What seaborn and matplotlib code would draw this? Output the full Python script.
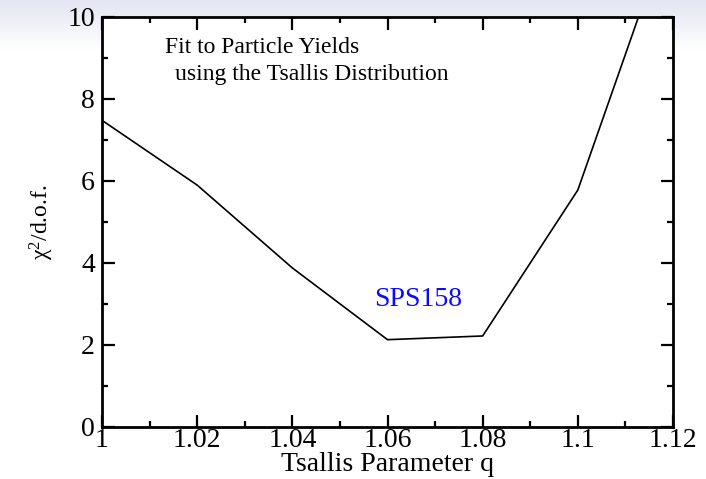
import numpy as np
import pandas as pd
import matplotlib
matplotlib.use("Agg")
import matplotlib.pyplot as plt
import seaborn as sns
from matplotlib.ticker import MultipleLocator, FixedLocator
from matplotlib.colors import LinearSegmentedColormap

q_values = [1.00, 1.02, 1.04, 1.06, 1.08, 1.10, 1.12]
chi2_values = [7.48, 5.90, 3.88, 2.13, 2.22, 5.78, 12.4]
x_ticks = [1.0, 1.02, 1.04, 1.06, 1.08, 1.10, 1.12]
x_tick_labels = ["1", "1.02", "1.04", "1.06", "1.08", "1.1", "1.12"]
y_ticks = [0, 2, 4, 6, 8, 10]

sns.set_theme(style="ticks")
plt.rcParams["font.family"] = ["Liberation Serif", "DejaVu Serif"]
plt.rcParams["mathtext.fontset"] = "custom"
plt.rcParams["mathtext.rm"] = "Liberation Serif"
plt.rcParams["mathtext.it"] = "Liberation Serif:italic"

W, H = 706, 479
fig = plt.figure(figsize=(W / 100, H / 100), dpi=100)
fig.patch.set_facecolor("white")

# light gradient band at top of the figure
bg = fig.add_axes([0, 1 - 50 / H, 1, 50 / H], zorder=-10)
grad = np.linspace(0, 1, 60).reshape(-1, 1)
cmap = LinearSegmentedColormap.from_list("g", ["#ffffff", "#e3e5f3"])
bg.imshow(grad, aspect="auto", cmap=cmap, extent=[0, 1, 0, 1], origin="lower")
bg.axis("off")

L, R, T, B = 102, 673, 17, 427
ax = fig.add_axes([L / W, 1 - B / H, (R - L) / W, (B - T) / H])
ax.set_facecolor("white")

df = pd.DataFrame({"q": q_values, "chi2": chi2_values})
sns.lineplot(data=df, x="q", y="chi2", ax=ax, color="black", linewidth=1.2)

ax.set_xlim(1.0, 1.12)
ax.set_ylim(0, 10)
ax.xaxis.set_major_locator(FixedLocator(x_ticks))
ax.set_xticklabels(x_tick_labels)
ax.yaxis.set_major_locator(FixedLocator(y_ticks))
ax.xaxis.set_minor_locator(MultipleLocator(0.01))
ax.yaxis.set_minor_locator(MultipleLocator(1))
ax.tick_params(which="both", direction="in", top=True, right=True, width=1.6,
               labelsize=20, color="black", labelcolor="black")
ax.tick_params(which="major", length=9)
ax.tick_params(which="minor", length=4.5)
ax.tick_params(axis="x", pad=1)
ax.tick_params(axis="y", pad=5)
for s in ax.spines.values():
    s.set_linewidth(2)
    s.set_color("black")

ax.set_xlabel("Tsallis Parameter q", fontsize=20, color="black", va="top")
ax.xaxis.set_label_coords(0.5, -0.06)
ax.set_ylabel("χ$^{2}$/d.o.f.", fontsize=17, labelpad=8, color="black")

ax.text(1.0132, 9.12, "Fit to Particle Yields", fontsize=17, va="baseline", ha="left", color="black")
ax.text(1.0153, 8.47, "using the Tsallis Distribution", fontsize=17, va="baseline", ha="left", color="black")
ax.text(1.0664, 3.10, "SPS158", fontsize=20, va="center", ha="center", color="#0a0aff")

fig.savefig("out.png", dpi=100)
